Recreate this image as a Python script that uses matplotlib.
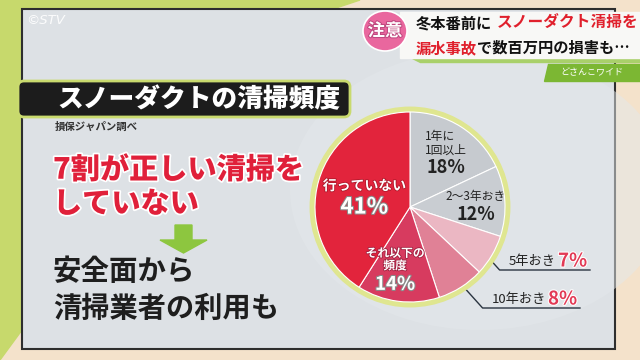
import matplotlib
matplotlib.use("Agg")
import matplotlib.pyplot as plt
import numpy as np
from matplotlib.patches import Rectangle, FancyBboxPatch, Circle, Ellipse, Polygon
import matplotlib.patheffects as pe

plt.rcParams['font.family'] = ['Noto Sans CJK JP', 'DejaVu Sans']

# ---- data ----
categories = ["1年に\n1回以上", "2～3年おき", "5年おき", "10年おき", "それ以下の\n頻度", "行っていない"]
values = [18, 12, 7, 8, 14, 41]
slice_colors = ["#c6cacf", "#c9cdd2", "#ebb7c3", "#e08196", "#d73b5f", "#e2243c"]
title = "スノーダクトの清掃頻度"
source = "損保ジャパン調べ"
headline = ["7割が正しい清掃を", "していない"]
subline = ["安全面から", "清掃業者の利用も"]

W, H = 640, 360
fig = plt.figure(figsize=(6.4, 3.6), dpi=100)
bg = fig.add_axes([0, 0, 1, 1])
bg.set_xlim(0, W)
bg.set_ylim(H, 0)
bg.axis('off')

# outer background
bg.add_patch(Rectangle((0, 0), W, H, color="#f4e2cb", zorder=0))
bg.add_patch(Polygon([(0, 0), (360, 0), (330, 10), (22, 10), (22, 330), (0, 360)],
                     closed=True, color="#c7d96c", zorder=0.5))
# panel
bg.add_patch(Rectangle((22, 9), 593, 340, facecolor="#dde1e5", edgecolor="#2e2e2e", lw=1.5, zorder=1))
bg.add_patch(Ellipse((480, 190), 380, 280, color="#e4e8eb", alpha=0.5, zorder=1.1, lw=0))

# ©STV
bg.text(26, 20, "©STV", color="white", fontsize=9.5, style='italic', ha='left', va='center',
        family=['DejaVu Sans'], alpha=0.9, zorder=5)

# top-right banner
bg.add_patch(Rectangle((400, 12), 240, 46, color="#f8f8f6", zorder=3))
bg.add_patch(Polygon([(400, 52), (640, 52), (640, 62), (420, 62)], closed=True, color="#a9d06a", zorder=2.9))
bg.add_patch(Ellipse((385, 31), 44, 40, facecolor="#e9679e", edgecolor="white", lw=1.2, zorder=4))
bg.text(385, 31, "注意", color="white", fontsize=12.5, weight='bold', ha='center', va='center', zorder=5,
        path_effects=[pe.withStroke(linewidth=1.5, foreground="#c04a80")])
bg.text(416, 23, "冬本番前に", color="#111111", fontsize=11, weight='bold', ha='left', va='center', zorder=5)
bg.text(497, 23, "スノーダクト清掃を", color="#e0202c", fontsize=11.3, weight='bold', ha='left', va='center', zorder=5)
bg.text(416, 48, "漏水事故", color="#e0202c", fontsize=11, weight='bold', ha='left', va='center', zorder=5)
bg.text(477, 48, "で数百万円の損害も…", color="#111111", fontsize=11, weight='bold', ha='left', va='center', zorder=5)
bg.add_patch(Polygon([(548, 64), (640, 64), (640, 81), (544, 81)], closed=True, color="#7cb733", zorder=4))
bg.text(592, 72.5, "どさんこワイド", color="white", fontsize=6.5, style='italic', ha='center', va='center', zorder=5)

# title banner
bg.add_patch(FancyBboxPatch((18, 81), 332, 36, boxstyle="round,pad=0,rounding_size=6",
                            facecolor="#1c1c1c", edgecolor="#c9da6e", lw=2, zorder=4))
bg.text(57, 99, title, color="white", fontsize=18.5, weight='black', ha='left', va='center', zorder=5)

bg.text(55, 127, source, color="#333333", fontsize=7.5, weight='bold', ha='left', va='center', zorder=5)

stroke_w = [pe.withStroke(linewidth=2.5, foreground="white")]
bg.text(53, 170, headline[0], color="#e0203a", fontsize=21, weight='black', ha='left', va='center',
        zorder=5, path_effects=stroke_w)
bg.text(53, 204, headline[1], color="#e0203a", fontsize=21, weight='black', ha='left', va='center',
        zorder=5, path_effects=stroke_w)

# green arrow
bg.add_patch(Polygon([(175, 225), (192, 225), (192, 240), (207, 240), (183.5, 253), (160, 240), (175, 240)],
                     closed=True, color="#8dc63f", zorder=5))

bg.text(53, 272, subline[0], color="#1e1e1e", fontsize=20.5, weight='bold', ha='left', va='center', zorder=5)
bg.text(53, 309, subline[1], color="#1e1e1e", fontsize=20.3, weight='bold', ha='left', va='center', zorder=5)

# ---- pie ----
cx, cy, R = 410, 207, 95
L = 1.08
ax = fig.add_axes([(cx - R * L) / W, (H - cy - R * L) / H, 2 * R * L / W, 2 * R * L / H])
ax.set_xlim(-L, L)
ax.set_ylim(-L, L)
ax.set_aspect('auto')
ax.axis('off')
ax.add_patch(Circle((0, 0), 1.05, color="#dfe690", zorder=0))
wedges, _ = ax.pie(values, colors=slice_colors, startangle=90, counterclock=False, radius=1.0,
                   wedgeprops=dict(edgecolor="white", linewidth=0.8))
ax.set_xlim(-L, L)
ax.set_ylim(-L, L)
for w in wedges:
    w.set_zorder(1)

def mid(i):
    w = wedges[i]
    return np.deg2rad((w.theta1 + w.theta2) / 2)

def pos(i, r):
    t = mid(i)
    return r * np.cos(t), r * np.sin(t)

# inside labels
x, y = pos(0, 0.70)
ax.text(x, y + 0.08, categories[0], color="#222222", fontsize=8.5, ha='center', va='center',
        multialignment='left', linespacing=1.0, zorder=3)
ax.text(x, y - 0.18, "18%", color="#222222", fontsize=13, weight='bold', ha='center', va='center', zorder=3)

x, y = pos(1, 0.66)
ax.text(x + 0.03, y + 0.07, categories[1], color="#222222", fontsize=8.5, ha='center', va='center', zorder=3)
ax.text(x + 0.03, y - 0.12, "12%", color="#222222", fontsize=13, weight='bold', ha='center', va='center', zorder=3)

x, y = pos(5, 0.50)
ax.text(x, y + 0.08, categories[5], color="white", fontsize=10, weight='bold', ha='center', va='center', zorder=3,
        path_effects=[pe.withStroke(linewidth=1.2, foreground="#b01a2c")])
ax.text(x, y - 0.14, "41%", color="white", fontsize=16, weight='bold', ha='center', va='center', zorder=3,
        path_effects=[pe.withStroke(linewidth=1.5, foreground="#8a8a8a")])

x, y = pos(4, 0.70)
ax.text(x - 0.07, y + 0.14, categories[4], color="white", fontsize=8.5, weight='bold', ha='center', va='center',
        linespacing=0.95, zorder=3, path_effects=[pe.withStroke(linewidth=1.2, foreground="#a02040")])
ax.text(x - 0.07, y - 0.12, "14%", color="white", fontsize=13.5, weight='bold', ha='center', va='center', zorder=3,
        path_effects=[pe.withStroke(linewidth=1.5, foreground="#8a8a8a")])

# outside labels (in figure pixel coords)
def to_px(px, py):
    return cx + px * R, cy - py * R

for i, (ylevel, xend, pct_txt) in zip([2, 3], [(270, 590, "7%"), (308, 580, "8%")]):
    sx, sy = to_px(*pos(i, 0.86))
    kx = sx + (ylevel - sy) * 0.9
    bg.plot([sx, kx, xend], [sy, ylevel, ylevel], color="#2a3440", lw=1.0, zorder=6)
    name = categories[i]
    bg.text(xend - 34, ylevel - 8, name, color="#222222", fontsize=9.5, ha='right', va='center', zorder=6)
    bg.text(xend - 32, ylevel - 9, pct_txt, color="#e23a55", fontsize=13.5, weight='bold', ha='left', va='center',
            zorder=6, path_effects=[pe.withStroke(linewidth=1.5, foreground="white")])

fig.savefig("out.png", dpi=100)
